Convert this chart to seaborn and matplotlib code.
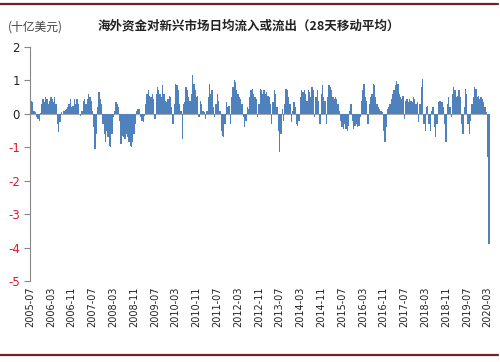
import numpy as np
import pandas as pd
import matplotlib
matplotlib.use('Agg')
import matplotlib.pyplot as plt
from matplotlib.lines import Line2D
import seaborn as sns

# half-monthly readings of the 28-day average flow (USD bn)
flow_2005 = [0.4, 0.38, 0.35, 0.1, 0.05, -0.1, -0.15, -0.2, 0.02, 0.3, 0.45, 0.35]
flow_2006 = [0.5, 0.45, 0.3, 0.4, 0.5, 0.45, 0.35, 0.5, 0.3, -0.3, -0.55, -0.25,
             0.05, 0.0, 0.1, 0.12, 0.15, 0.2, 0.3, 0.45, 0.2, 0.25, 0.45, 0.3]
flow_2007 = [0.45, 0.3, 0.0, -0.05, 0.1, 0.4, 0.45, 0.3, 0.45, 0.6, 0.5, 0.4,
             0.1, -0.4, -1.05, -0.6, 0.2, 0.65, 0.45, 0.3, -0.3, -0.6, -0.85, -0.5]
flow_2008 = [-0.7, -0.95, -1.0, -0.6, -0.1, 0.1, 0.35, 0.3, 0.2, -0.2, -0.9, -0.65,
             -0.7, -0.75, -0.6, -0.7, -0.85, -0.95, -1.0, -0.85, -0.6, -0.3, 0.1, 0.15]
flow_2009 = [0.15, -0.1, -0.2, -0.25, -0.05, 0.3, 0.6, 0.7, 0.55, 0.5, 0.6, 0.45,
             -0.15, 0.6, 0.8, 0.7, 0.6, 0.5, 0.85, 0.6, 0.4, 0.35, 0.45, 0.55]
flow_2010 = [0.5, 0.2, -0.3, 0.3, 0.9, 0.85, 0.7, 0.3, 0.1, -0.75, 0.3, 0.35,
             0.8, 0.7, 0.5, 0.4, 0.6, 1.15, 0.9, 0.7, 0.5, 0.55, -0.1, 0.4]
flow_2011 = [0.3, 0.1, 0.05, -0.15, 0.1, 0.5, 0.9, 0.6, 0.7, 0.2, -0.1, 0.3,
             0.6, 0.4, 0.1, -0.5, -0.65, -0.7, -0.3, 0.35, 0.2, 0.25, -0.3, 0.5]
flow_2012 = [0.8, 1.0, 0.95, 0.7, 0.6, 0.5, 0.45, 0.3, -0.1, -0.4, -0.2, 0.2,
             0.15, 0.5, 0.7, 0.75, 0.6, 0.5, 0.45, -0.1, 0.3, 0.75, 0.7, 0.6]
flow_2013 = [0.7, 0.6, 0.65, 0.55, 0.5, 0.3, -0.3, 0.35, 0.7, 0.6, 0.2, -0.5,
             -1.15, -0.6, 0.15, -0.2, 0.3, 0.75, 0.7, 0.5, 0.3, -0.25, 0.1, 0.35]
flow_2014 = [0.2, -0.3, -0.35, -0.2, 0.5, 0.7, 0.65, 0.7, 0.6, 0.4, 0.7, 0.65,
             0.5, 0.8, 0.7, -0.1, 0.5, 0.7, 0.4, -0.3, 0.6, 0.85, 0.5, 0.4]
flow_2015 = [-0.3, 0.5, 0.85, 0.8, 0.7, 0.5, 0.45, 0.5, 0.45, 0.3, 0.1, -0.2,
             -0.4, -0.45, -0.3, -0.45, -0.5, -0.35, 0.1, 0.3, -0.2, -0.45, -0.35, -0.3]
flow_2016 = [-0.4, -0.35, -0.1, 0.4, 0.7, 0.9, 0.5, 0.4, -0.3, 0.3, 0.5, 0.6,
             0.9, 0.85, 0.5, 0.3, 0.2, 0.15, 0.1, 0.05, -0.5, -0.85, -0.4, 0.15]
flow_2017 = [0.2, 0.3, 0.45, 0.6, 0.7, 0.85, 0.97, 0.9, 0.6, 0.5, 0.45, 0.55,
             -0.15, 0.4, 0.45, 0.35, 0.45, 0.4, 0.35, 0.5, 0.45, 0.3, 0.35, -0.25]
flow_2018 = [0.3, 0.8, 1.05, -0.3, -0.5, 0.2, 0.25, -0.3, -0.5, 0.1, 0.2, -0.4,
             -0.7, -0.3, 0.35, 0.4, 0.4, 0.35, 0.2, -0.3, -0.85, 0.3, 0.5, 0.2]
flow_2019 = [-0.1, 0.6, 0.8, 0.7, 0.5, 0.55, 0.7, 0.5, -0.3, -0.6, 0.2, 0.75,
             0.6, -0.3, -0.6, -0.2, 0.3, 0.5, 0.8, 0.75, 0.5, 0.55, 0.45, 0.5]
flow_2020 = [0.45, 0.35, 0.2, 0.05, -1.3, -3.9]

tick_labels = ['2005-07', '2006-03', '2006-11', '2007-07', '2008-03', '2008-11',
               '2009-07', '2010-03', '2010-11', '2011-07', '2012-03', '2012-11',
               '2013-07', '2014-03', '2014-11', '2015-07', '2016-03', '2016-11',
               '2017-07', '2018-03', '2018-11', '2019-07', '2020-03']

flows = (flow_2005 + flow_2006 + flow_2007 + flow_2008 + flow_2009 + flow_2010 +
         flow_2011 + flow_2012 + flow_2013 + flow_2014 + flow_2015 + flow_2016 +
         flow_2017 + flow_2018 + flow_2019 + flow_2020)
df = pd.DataFrame({'period': np.arange(len(flows)), 'flow': flows})

sns.set_style('white')
plt.rcParams['font.family'] = ['DejaVu Sans', 'Noto Sans CJK SC']

fig = plt.figure(figsize=(5, 3.62), dpi=100)
ax = fig.add_axes([0.059, 0.224, 0.92, 0.646])

ax.axhline(0, color='#a6a6a6', lw=0.8, zorder=0)
sns.barplot(data=df, x='period', y='flow', color='#4f81bd', width=1.0,
            linewidth=0, saturation=1, antialiased=False, ax=ax)

ax.set_ylim(-5, 2)
ax.set_xlim(-0.5, len(flows) - 0.5)
ax.set_yticks(range(-5, 3))
ax.set_yticklabels([str(v) for v in range(-5, 3)], fontsize=8.5)
for lab, v in zip(ax.get_yticklabels(), range(-5, 3)):
    lab.set_color('#e3142c' if v < 0 else '#222222')

ax.set_xticks(np.arange(0, len(flows), 16))
ax.set_xticklabels(tick_labels, rotation=90, fontsize=7, color='#222222')
ax.tick_params(axis='x', length=0, pad=4)
ax.tick_params(axis='y', length=4, width=0.8, color='#888888', direction='out', left=True, pad=3)
ax.set_xlabel('')
ax.set_ylabel('')

for side in ['top', 'right', 'bottom']:
    ax.spines[side].set_visible(False)
ax.spines['left'].set_color('#888888')
ax.spines['left'].set_linewidth(0.8)

fig.text(8 / 500, 1 - 27 / 362, '(十亿美元)', family=['Noto Sans CJK SC', 'DejaVu Sans'],
         fontsize=8.5, color='#444444', va='center', ha='left')
fig.text(98 / 500, 1 - 26 / 362, '海外资金对新兴市场日均流入或流出（28天移动平均）',
         family=['Noto Sans CJK SC', 'DejaVu Sans'], fontweight='bold',
         fontsize=9, color='#222222', va='center', ha='left')

fig.add_artist(Line2D([0.0, 0.995], [1 - 4 / 362, 1 - 4 / 362], color='#7a1f1f', lw=1.6))
fig.add_artist(Line2D([0.0, 0.995], [1 - 355 / 362, 1 - 355 / 362], color='#7a1f1f', lw=1.6))

fig.savefig('out.png', dpi=100)
